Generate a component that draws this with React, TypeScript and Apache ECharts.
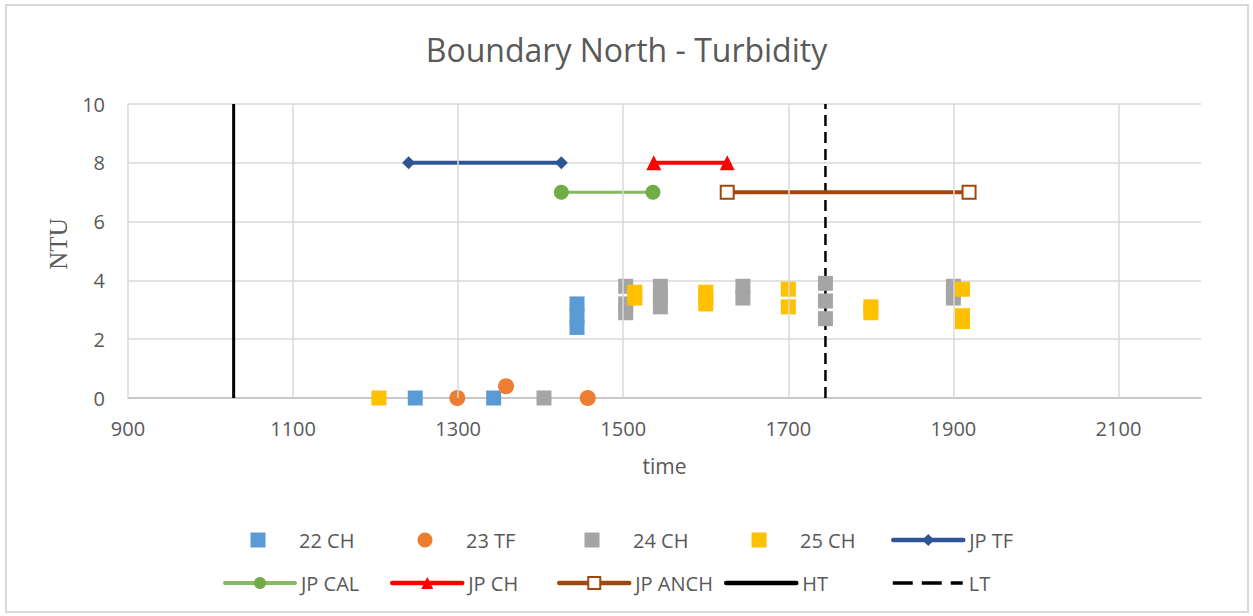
import React, { useEffect, useRef } from "react";
import * as echarts from "echarts";

// ---- data ----
const xTickLabels = [900, 1100, 1300, 1500, 1700, 1900, 2100];
const yTicks = [0, 2, 4, 6, 8, 10];

const s22CH = [[1248, 0], [1343, 0], [1444, 2.4], [1444, 2.8], [1444, 3.2]];
const s23TF = [[1299, 0], [1358, 0.4], [1457, 0]];
const s24CH = [
  [1404, 0],
  [1503, 3.8], [1503, 3.2], [1503, 2.9],
  [1545, 3.8], [1545, 3.45], [1545, 3.1],
  [1645, 3.8], [1645, 3.4],
  [1745, 3.9], [1745, 3.3], [1745, 2.7],
  [1900, 3.8], [1900, 3.4],
];
const s25CH = [
  [1204, 0],
  [1514, 3.6], [1514, 3.4],
  [1600, 3.6], [1600, 3.4], [1600, 3.2],
  [1700, 3.7], [1700, 3.1],
  [1800, 3.1], [1800, 2.9],
  [1911, 3.7], [1911, 2.8], [1911, 2.6],
];
const jpTF = [[1240, 8], [1425, 8]];
const jpCAL = [[1425, 7], [1536, 7]];
const jpCH = [[1537, 8], [1626, 8]];
const jpANCH = [[1626, 7], [1919, 7]];
const htLine = [[1028, 0], [1028, 10]];
const ltLine = [[1745, 0], [1745, 10]];

const legendRow1 = ["22 CH", "23 TF", "24 CH", "25 CH", "JP TF"];
const legendRow2 = ["JP CAL", "JP CH", "JP ANCH", "HT", "LT"];

const FONT = "'Open Sans', 'Noto Sans', sans-serif";
const TXT = "#595959";

export default function App() {
  const ref = useRef<HTMLDivElement>(null);

  useEffect(() => {
    if (!ref.current) return;
    const chart = echarts.init(ref.current, undefined, { renderer: "svg" });

    const legendFor = (name: string, col: number, row: number) => {
      const isLine = row === 1 || col === 4;
      const item: any = { name };
      if (name === "HT" || name === "LT") item.itemStyle = { opacity: 0 };
      if (!isLine) item.icon = "path://M0,0L10,0L10,10L0,10Z";
      if (name === "23 TF") item.icon = "circle";
      const lineStyle: any = { width: 4.5, cap: "round" };
      if (name === "LT") {
        lineStyle.type = [20, 9];
        lineStyle.width = 3.5;
        lineStyle.cap = "butt";
      }
      if (name === "JP CAL") lineStyle.width = 4;
      return {
        left: 223 + 167 * col + (isLine ? 0 : 27.5),
        top: row === 0 ? 530 : 573,
        padding: 0,
        itemWidth: 70,
        itemHeight: 15,
        itemGap: 0,
        symbolKeepAspect: true,
        selectedMode: false,
        data: [item],
        lineStyle: isLine ? lineStyle : undefined,
        textStyle: { fontFamily: FONT, fontSize: 20, color: TXT, padding: [0, 0, 0, 1] },
      };
    };

    const legends = [
      ...legendRow1.map((n, i) => legendFor(n, i, 0)),
      ...legendRow2.map((n, i) => legendFor(n, i, 1)),
    ];

    const option: any = {
      animation: false,
      backgroundColor: "#ffffff",
      title: {
        text: "Boundary North - Turbidity",
        left: "center",
        top: 28,
        textStyle: { fontFamily: FONT, fontSize: 32, fontWeight: "normal", color: TXT },
      },
      legend: legends,
      grid: { left: 128, top: 104, width: 1073, height: 294, containLabel: false },
      xAxis: {
        type: "value",
        min: 900,
        max: 2200,
        interval: 100,
        name: "time",
        nameLocation: "middle",
        nameGap: 57,
        nameTextStyle: { fontFamily: FONT, fontSize: 21, color: TXT },
        axisLine: { show: true, onZero: true, lineStyle: { color: "#bfbfbf", width: 1.5 } },
        axisTick: { show: false },
        splitLine: { show: false },
        axisLabel: {
          customValues: xTickLabels,
          formatter: (v: number) => String(v),
          margin: 20,
          fontFamily: FONT,
          fontSize: 20,
          color: TXT,
        },
      },
      yAxis: {
        type: "value",
        min: 0,
        max: 10,
        interval: 2,
        name: "NTU",
        nameLocation: "middle",
        nameGap: 56,
        nameTextStyle: {
          fontFamily: "'Liberation Serif', 'DejaVu Serif', serif",
          fontSize: 25,
          color: TXT,
          padding: [0, 0, 0, 14],
        },
        axisLine: { show: false },
        axisTick: { show: false },
        splitLine: { show: true, lineStyle: { color: "#d9d9d9", width: 1.5 } },
        axisLabel: {
          customValues: yTicks,
          formatter: (v: number) => String(v),
          margin: 23,
          fontFamily: FONT,
          fontSize: 20,
          color: TXT,
        },
      },
      graphic: [
        {
          type: "rect",
          silent: true,
          shape: { x: 6, y: 5, width: 1242, height: 607 },
          style: { fill: "none", stroke: "#d9d9d9", lineWidth: 2 },
        },
      ],
      series: [
        {
          name: "HT",
          type: "line",
          data: htLine,
          symbol: "none",
          z: 1,
          lineStyle: { color: "#000000", width: 3 },
          itemStyle: { color: "#000000" },
          markLine: {
            silent: true,
            symbol: ["none", "none"],
            label: { show: false },
            lineStyle: { color: "#d9d9d9", width: 1.5, type: "solid" },
            emphasis: { disabled: true },
            data: xTickLabels.map((v) => ({ xAxis: v })),
          },
        },
        {
          name: "LT",
          type: "line",
          data: ltLine,
          symbol: "none",
          z: 1,
          lineStyle: { color: "#000000", width: 2.5, type: [11, 6] },
          itemStyle: { color: "#000000" },
        },
        {
          name: "22 CH",
          type: "scatter",
          data: s22CH,
          symbol: "rect",
          symbolSize: 15,
          itemStyle: { color: "#5B9BD5", opacity: 1 },
        },
        {
          name: "23 TF",
          type: "scatter",
          data: s23TF,
          symbol: "circle",
          symbolSize: 16,
          itemStyle: { color: "#ED7D31", opacity: 1 },
        },
        {
          name: "24 CH",
          type: "scatter",
          data: s24CH,
          symbol: "rect",
          symbolSize: 15,
          itemStyle: { color: "#A5A5A5", opacity: 1 },
        },
        {
          name: "25 CH",
          type: "scatter",
          data: s25CH,
          symbol: "rect",
          symbolSize: 15,
          itemStyle: { color: "#FFC000", opacity: 1 },
        },
        {
          name: "JP TF",
          type: "line",
          data: jpTF,
          symbol: "diamond",
          symbolSize: 13,
          lineStyle: { color: "#2F5597", width: 4, cap: "round" },
          itemStyle: { color: "#2F5597" },
        },
        {
          name: "JP CAL",
          type: "line",
          data: jpCAL,
          symbol: "circle",
          symbolSize: 15,
          lineStyle: { color: "#70AD47", width: 3, opacity: 0.85, cap: "round" },
          itemStyle: { color: "#70AD47" },
        },
        {
          name: "JP CH",
          type: "line",
          data: jpCH,
          symbol: "triangle",
          symbolSize: 15,
          lineStyle: { color: "#FF0000", width: 4, cap: "round" },
          itemStyle: { color: "#FF0000" },
        },
        {
          name: "JP ANCH",
          type: "line",
          data: jpANCH,
          symbol: "emptyRect",
          symbolSize: 13,
          lineStyle: { color: "#9E480E", width: 4, cap: "round" },
          itemStyle: { color: "#9E480E", borderColor: "#9E480E", borderWidth: 2 },
        },
      ],
    };

    chart.setOption(option);
    return () => chart.dispose();
  }, []);

  return (
    <div
      ref={ref}
      style={{ position: "absolute", left: 0, top: 0, width: 1253, height: 616 }}
    />
  );
}
